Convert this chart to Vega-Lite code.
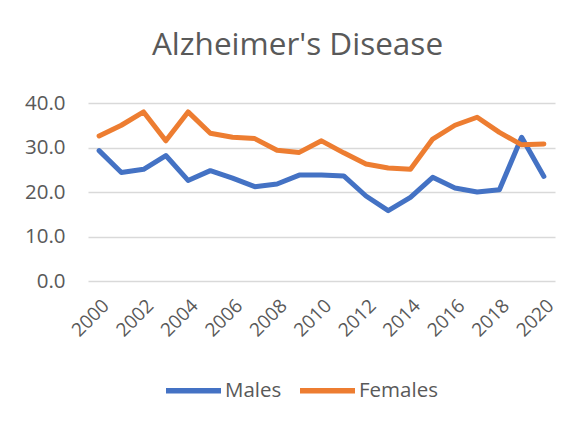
{
  "$schema": "https://vega.github.io/schema/vega-lite/v6.json",
  "autosize": {"type": "none"},
  "width": 467,
  "height": 178,
  "padding": {"left": 88, "top": 103, "right": 32, "bottom": 147},
  "background": "white",
  "title": {
    "text": "Alzheimer's Disease",
    "fontSize": 31.5,
    "font": "Open Sans",
    "fontWeight": "normal",
    "color": "#595959",
    "anchor": "middle",
    "dx": -24,
    "offset": 32
  },
  "data": {
    "values": [
      {"year": "2000", "series": "Males", "value": 29.3},
      {"year": "2001", "series": "Males", "value": 24.4},
      {"year": "2002", "series": "Males", "value": 25.1},
      {"year": "2003", "series": "Males", "value": 28.2},
      {"year": "2004", "series": "Males", "value": 22.6},
      {"year": "2005", "series": "Males", "value": 24.8},
      {"year": "2006", "series": "Males", "value": 23.1},
      {"year": "2007", "series": "Males", "value": 21.2},
      {"year": "2008", "series": "Males", "value": 21.8},
      {"year": "2009", "series": "Males", "value": 23.8},
      {"year": "2010", "series": "Males", "value": 23.8},
      {"year": "2011", "series": "Males", "value": 23.6},
      {"year": "2012", "series": "Males", "value": 19.1},
      {"year": "2013", "series": "Males", "value": 15.8},
      {"year": "2014", "series": "Males", "value": 18.8},
      {"year": "2015", "series": "Males", "value": 23.3},
      {"year": "2016", "series": "Males", "value": 20.9},
      {"year": "2017", "series": "Males", "value": 20.0},
      {"year": "2018", "series": "Males", "value": 20.5},
      {"year": "2019", "series": "Males", "value": 32.3},
      {"year": "2020", "series": "Males", "value": 23.5},
      {"year": "2000", "series": "Females", "value": 32.6},
      {"year": "2001", "series": "Females", "value": 35.0},
      {"year": "2002", "series": "Females", "value": 38.0},
      {"year": "2003", "series": "Females", "value": 31.5},
      {"year": "2004", "series": "Females", "value": 38.0},
      {"year": "2005", "series": "Females", "value": 33.2},
      {"year": "2006", "series": "Females", "value": 32.3},
      {"year": "2007", "series": "Females", "value": 32.0},
      {"year": "2008", "series": "Females", "value": 29.4},
      {"year": "2009", "series": "Females", "value": 28.9},
      {"year": "2010", "series": "Females", "value": 31.5},
      {"year": "2011", "series": "Females", "value": 28.8},
      {"year": "2012", "series": "Females", "value": 26.3},
      {"year": "2013", "series": "Females", "value": 25.4},
      {"year": "2014", "series": "Females", "value": 25.1},
      {"year": "2015", "series": "Females", "value": 31.9},
      {"year": "2016", "series": "Females", "value": 35.0},
      {"year": "2017", "series": "Females", "value": 36.8},
      {"year": "2018", "series": "Females", "value": 33.4},
      {"year": "2019", "series": "Females", "value": 30.6},
      {"year": "2020", "series": "Females", "value": 30.8}
    ]
  },
  "mark": {"type": "line", "strokeWidth": 5, "strokeCap": "round", "strokeJoin": "round"},
  "encoding": {
    "x": {
      "field": "year",
      "type": "ordinal",
      "scale": {"type": "point", "padding": 0.5},
      "axis": {
        "title": null,
        "values": ["2000","2002","2004","2006","2008","2010","2012","2014","2016","2018","2020"],
        "labelAngle": -45,
        "labelFontSize": 19,
        "labelFont": "Open Sans",
        "labelColor": "#595959",
        "labelPadding": 15,
        "ticks": false,
        "domain": false,
        "grid": false
      }
    },
    "y": {
      "field": "value",
      "type": "quantitative",
      "scale": {"domain": [0, 40], "nice": false},
      "axis": {
        "title": null,
        "values": [0, 10, 20, 30, 40],
        "format": ".1f",
        "labelFontSize": 20.5,
        "labelFont": "Open Sans",
        "labelColor": "#595959",
        "labelPadding": 23,
        "ticks": false,
        "domain": false,
        "grid": true,
        "gridColor": "#D9D9D9",
        "gridWidth": 1.5
      }
    },
    "color": {
      "field": "series",
      "type": "nominal",
      "sort": ["Males", "Females"],
      "scale": {"domain": ["Males", "Females"], "range": ["#4472C4", "#ED7D31"]},
      "legend": {
        "title": null,
        "orient": "none",
        "direction": "horizontal",
        "legendX": 75,
        "legendY": 257,
        "symbolType": "stroke",
        "symbolSize": 3025,
        "symbolStrokeWidth": 5.5,
        "labelFontSize": 20.5,
        "labelFont": "Open Sans",
        "labelColor": "#595959",
        "labelOffset": 1,
        "columnPadding": 7
      }
    }
  },
  "config": {"view": {"stroke": null}}
}
